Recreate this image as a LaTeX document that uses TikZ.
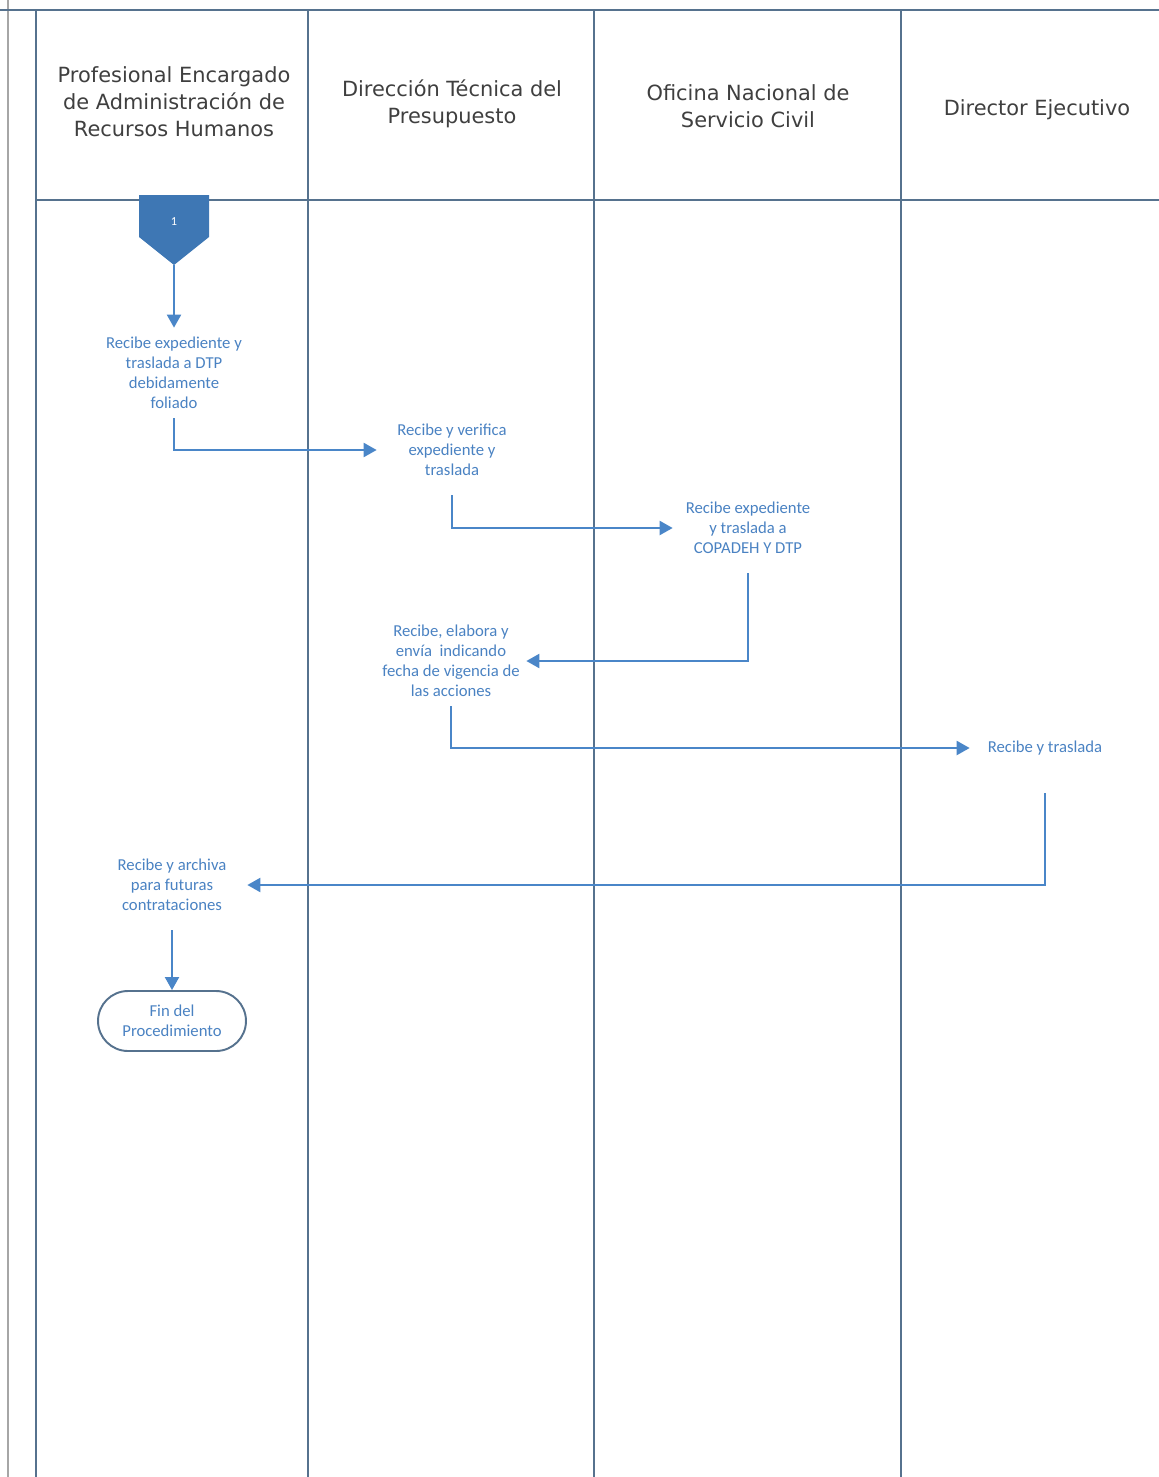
\documentclass[tikz,border=0pt]{standalone}
\usepackage{fontspec}
\usetikzlibrary{arrows.meta, positioning}
\newfontfamily\flowfont{Carlito}
\newfontfamily\headfont{DejaVu Sans}
\definecolor{flowblue}{HTML}{4A86C8}
\definecolor{textblue}{HTML}{4A82C2}
\definecolor{lanecol}{HTML}{56728E}
\definecolor{headgray}{HTML}{3F3F3F}
\definecolor{connfill}{HTML}{3E77B4}

\begin{document}
\begin{tikzpicture}[
    x=0.02cm, y=-0.02cm,
    lane/.style={draw=lanecol, line width=0.9pt},
    head/.style={align=center, text=headgray, font=\headfont\fontsize{11.9}{15.4}\selectfont},
    task/.style={align=center, text=textblue, minimum width=3cm, minimum height=1.8cm, inner sep=0pt, font=\flowfont\fontsize{9.5}{11.4}\selectfont},
    stopbox/.style={draw=lanecol, line width=1.1pt, rounded corners=0.6cm, minimum width=2.96cm, minimum height=1.2cm, align=center, text=textblue, font=\flowfont\fontsize{9.5}{11.4}\selectfont},
    flow/.style={-{Triangle[length=0.26cm, width=0.28cm]}, line width=1.2pt, color=flowblue}
]
\useasboundingbox (0,0) rectangle (1159,1477);

% lanes
\draw[draw=gray!70, line width=0.8pt] (8,0) -- (8,1477);
\draw[lane] (0,10) -- (1159,10);
\draw[lane] (36,10) -- (36,1477);
\draw[lane] (308,10) -- (308,1477);
\draw[lane] (594,10) -- (594,1477);
\draw[lane] (901,10) -- (901,1477);
\draw[lane] (36,200) -- (1159,200);

\node[head] (rrhh) at (174,102) {Profesional Encargado\\de Administración de\\Recursos Humanos};
\node[head] (dtp) at (452,104) {Dirección Técnica del\\Presupuesto};
\node[head] (onsec) at (748,106) {Oficina Nacional de\\Servicio Civil};
\node[head] (dir) at (1037,110) {Director Ejecutivo};

% connector 1
\fill[connfill] (139,195) -- (209,195) -- (209,237) -- (174,265) -- (139,237) -- cycle;
\node[text=white, font=\flowfont\fontsize{7}{8}\selectfont] (con1) at (174,222) {1};
\coordinate (con1tip) at (174,265);

% steps
\node[task] (recibe) at (174,373) {Recibe expediente y\\traslada a DTP\\debidamente\\foliado};
\node[task] (verifica) at (452,450) {Recibe y verifica\\expediente y\\traslada};
\node[task] (onsecrec) at (748,528) {Recibe expediente\\y traslada a\\COPADEH Y DTP};
\node[task] (elabora) at (451,661) {Recibe, elabora y\\envía~~indicando\\fecha de vigencia de\\las acciones};
\node[task] (dirrec) at (1045,748) {Recibe y traslada};
\node[task] (archiva) at (172,885) {Recibe y archiva\\para futuras\\contrataciones};
\node[stopbox] (fin) at (172,1021) {Fin del\\Procedimiento};

\draw[flow] (con1tip) -- (recibe);
\draw[flow] (recibe.south) |- (verifica.west);
\draw[flow] (verifica.south) |- (onsecrec.west);
\draw[flow] (onsecrec.south) |- (elabora.east);
\draw[flow] (elabora.south) |- (dirrec.west);
\draw[flow] (dirrec.south) |- (archiva.east);
\draw[flow] (archiva) -- (fin);
\end{tikzpicture}
\end{document}
